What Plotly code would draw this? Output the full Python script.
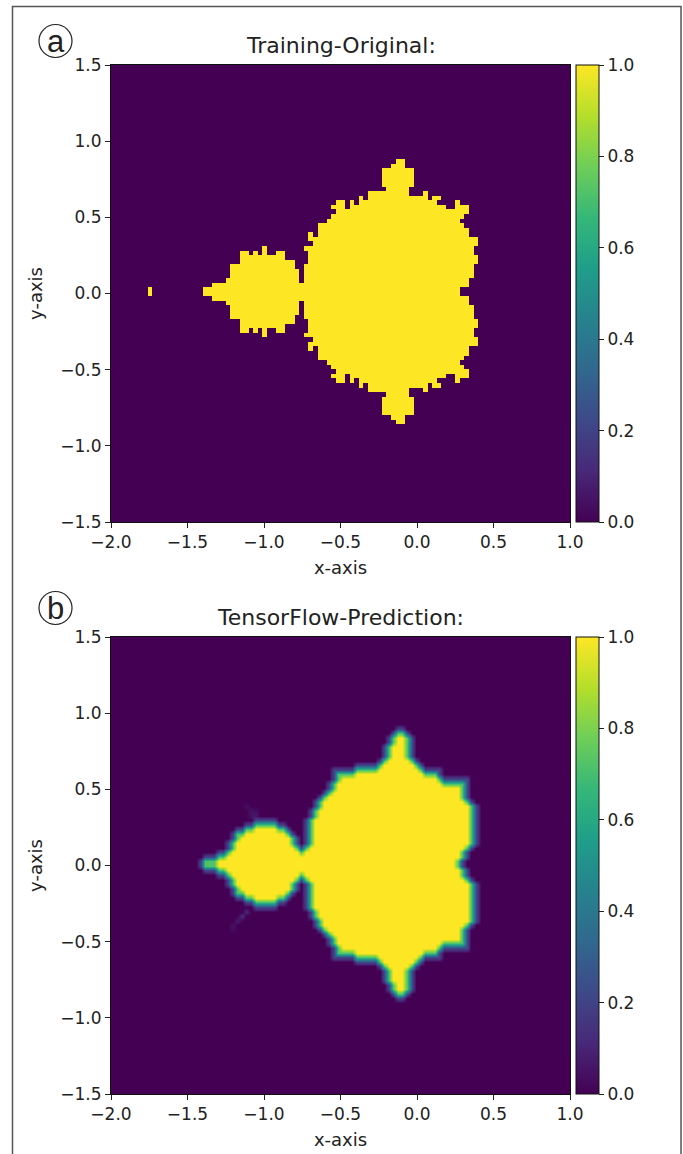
import plotly.graph_objects as go

W, H = 683, 1154

# Cell grid of both maps
N_COLS = 100
CELL = 0.03
X_START = -2.0

# Panel (a): yellow column spans, row by row, going up from the symmetry line (the lower half mirrors it)
SPANS_A = [
    [(8, 8), (20, 75)],
    [(22, 77)],
    [(25, 40), (42, 77)],
    [(26, 40), (42, 78)],
    [(26, 40), (42, 78)],
    [(26, 39), (42, 78)],
    [(28, 39), (43, 79)],
    [(28, 37), (43, 79)],
    [(28, 29), (31, 31), (33, 33), (36, 37), (43, 78)],
    [(33, 33), (42, 78)],
    [(44, 79)],
    [(43, 79)],
    [(43, 43), (45, 77)],
    [(45, 77)],
    [(45, 76)],
    [(47, 75)],
    [(48, 76)],
    [(49, 77)],
    [(48, 50), (52, 72), (75, 77)],
    [(49, 50), (52, 52), (54, 70), (75, 75)],
    [(54, 54), (56, 68), (70, 71)],
    [(56, 64), (68, 68)],
    [(60, 64)],
    [(59, 65)],
    [(59, 65)],
    [(59, 65)],
    [(59, 65)],
    [(61, 63)],
    [(62, 63)],
]

# Panel (b): outer outline of the predicted region, same layout
SPANS_B = [
    [(19, 76)],
    [(20, 77)],
    [(23, 77)],
    [(25, 78)],
    [(25, 40), (42, 79)],
    [(26, 40), (42, 79)],
    [(26, 39), (42, 79)],
    [(27, 38), (42, 79)],
    [(29, 37), (42, 79)],
    [(31, 35), (42, 79)],
    [(43, 79)],
    [(43, 79)],
    [(44, 79)],
    [(44, 78)],
    [(45, 77)],
    [(46, 77)],
    [(47, 77)],
    [(47, 77)],
    [(48, 77)],
    [(48, 71)],
    [(48, 71)],
    [(53, 67)],
    [(58, 66)],
    [(59, 65)],
    [(59, 65)],
    [(59, 65)],
    [(60, 65)],
    [(60, 65)],
    [(61, 64)],
    [(62, 63)],
]
# Colour levels read across the soft rim, outermost cell layer first
RIM_B = [0.22, 0.72, 1.0]
# Faint wisps next to the small bulb: (row, column, value); negative rows are below the line
WISPS_B = [
    (10, 30, 0.05), (11, 30, 0.05), (12, 29, 0.04), (10, 31, 0.06), (11, 31, 0.04),
    (-11, 29, 0.12), (-12, 28, 0.13), (-13, 27, 0.08), (-14, 26, 0.05), (-15, 26, 0.03),
]

OFFSET_A = 0.011
OFFSET_B = 0.013

X_TICKS = [-2.0, -1.5, -1.0, -0.5, 0.0, 0.5, 1.0]
Y_TICKS = [-1.5, -1.0, -0.5, 0.0, 0.5, 1.0, 1.5]
CB_TICKS = [0.0, 0.2, 0.4, 0.6, 0.8, 1.0]
TITLES = ["Training-Original:", "TensorFlow-Prediction:"]

FONT = "DejaVu Sans"
TXT = "#222222"
TICK_SIZE = 17
LABEL_SIZE = 18
TITLE_SIZE = 22


def mask_rows(spans):
    rows = {}
    for k in range(-52, 52):
        rows[k] = [0] * N_COLS
    for k, row in enumerate(spans):
        for a, b in row:
            for c in range(a, b + 1):
                rows[k][c] = 1
                rows[-1 - k][c] = 1
    return rows


def grid(rows, offset):
    keys = sorted(rows)
    ys = [offset + (k + 0.5) * CELL for k in keys]
    return ys, [rows[k] for k in keys]


def rim_rows(mask, levels):
    out = {k: [0.0] * N_COLS for k in mask}
    remaining = {k: list(v) for k, v in mask.items()}
    for level in levels:
        peeled = []
        for k, row in remaining.items():
            for c, v in enumerate(row):
                if not v:
                    continue
                up = remaining.get(k + 1, [0] * N_COLS)[c]
                dn = remaining.get(k - 1, [0] * N_COLS)[c]
                lf = row[c - 1] if c else 0
                rt = row[c + 1] if c < N_COLS - 1 else 0
                if level == levels[-1] or not (up and dn and lf and rt):
                    peeled.append((k, c))
        for k, c in peeled:
            out[k][c] = level
            remaining[k][c] = 0
    return out


xs = [X_START + (c + 0.5) * CELL for c in range(N_COLS)]

ya, za = grid(mask_rows(SPANS_A), OFFSET_A)
rows_b = rim_rows(mask_rows(SPANS_B), RIM_B)
for k, c, v in WISPS_B:
    rows_b[k][c] = max(rows_b[k][c], v)
yb, zb = grid(rows_b, OFFSET_B)

# Pixel layout
PX_L, PX_R = 111, 570
TOPS = [(65, 522), (637, 1094)]
CB_X = 575.7


def fy(py):
    return 1 - py / H


fig = go.Figure()
cb = dict(
    thickness=23, thicknessmode="pixels", lenmode="fraction", x=CB_X / W, xanchor="left",
    xpad=0, ypad=0, yanchor="bottom", outlinecolor="#111111", outlinewidth=1,
    ticks="outside", ticklen=5, tickwidth=1, tickcolor="#222222",
    tickvals=CB_TICKS, tickformat=".1f", tickfont=dict(family=FONT, size=TICK_SIZE, color=TXT),
)
for i, (y, z, sm) in enumerate([(ya, za, False), (yb, zb, "best")]):
    top, bot = TOPS[i]
    fig.add_trace(go.Heatmap(
        x=xs, y=y, z=z, zmin=0, zmax=1, colorscale="Viridis", zsmooth=sm,
        xaxis="x" if i == 0 else "x2", yaxis="y" if i == 0 else "y2",
        colorbar=dict(cb, y=fy(bot), len=(bot - top) / H), hoverinfo="skip",
    ))

axis_common = dict(
    showgrid=False, zeroline=False, showline=True, mirror=True, linecolor="#111111", linewidth=1,
    ticks="outside", ticklen=5, tickwidth=1, tickcolor="#222222", tickformat=".1f",
    tickfont=dict(family=FONT, size=TICK_SIZE, color=TXT), automargin=False,
)
layout = dict(
    width=W, height=H, margin=dict(l=0, r=0, t=0, b=0), paper_bgcolor="white", plot_bgcolor="#440154",
    showlegend=False, font=dict(family=FONT, color=TXT),
)
for i, (top, bot) in enumerate(TOPS):
    sx = "" if i == 0 else "2"
    layout["xaxis" + sx] = dict(
        axis_common, domain=[PX_L / W, PX_R / W], range=[-2, 1], tickvals=X_TICKS,
        anchor="y" + sx, title=dict(text="x-axis", font=dict(family=FONT, size=LABEL_SIZE, color=TXT), standoff=9),
    )
    layout["yaxis" + sx] = dict(
        axis_common, domain=[fy(bot), fy(top)], range=[-1.5, 1.5], tickvals=Y_TICKS,
        anchor="x" + sx, title=dict(text="y-axis", font=dict(family=FONT, size=LABEL_SIZE, color=TXT), standoff=13),
    )
fig.update_layout(**layout)

# Outer frame and panel letters
fig.add_shape(type="rect", xref="paper", yref="paper", x0=12.5 / W, x1=681 / W, y0=-0.01, y1=fy(6.5),
              line=dict(color="#555555", width=1.5), fillcolor="rgba(0,0,0,0)", layer="below")
for (cx, cy, letter) in [(55.5, 41, "a"), (55.5, 608, "b")]:
    fig.add_shape(type="circle", xref="paper", yref="paper", x0=(cx - 16.5) / W, x1=(cx + 16.5) / W,
                  y0=fy(cy + 16.5), y1=fy(cy - 16.5), line=dict(color="#222222", width=1.2))
    fig.add_annotation(text=letter, xref="paper", yref="paper", x=cx / W, y=fy(cy), showarrow=False,
                       xanchor="center", yanchor="middle", font=dict(family="Liberation Sans", size=31, color="#222222"))

for t, py in zip(TITLES, [46, 617]):
    fig.add_annotation(text=t, xref="paper", yref="paper", x=(PX_L + PX_R) / 2 / W, y=fy(py), showarrow=False,
                       xanchor="center", yanchor="middle", font=dict(family=FONT, size=TITLE_SIZE, color=TXT))

fig.write_html("out.html", config=dict(displayModeBar=False),
               post_script="document.body.style.margin='0';document.body.style.overflow='hidden';")
